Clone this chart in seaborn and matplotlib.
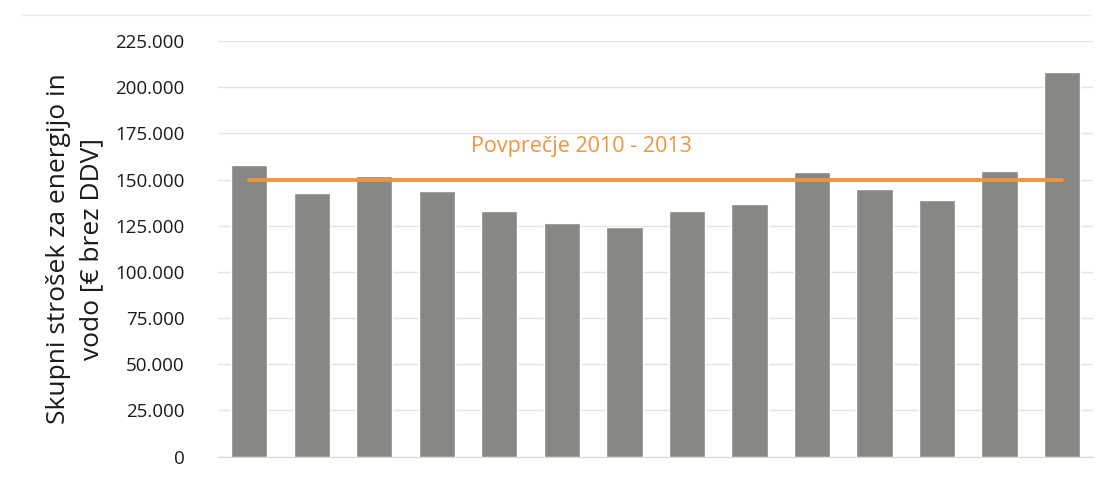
import numpy as np
import pandas as pd
import matplotlib.pyplot as plt
import seaborn as sns
from matplotlib.ticker import FuncFormatter
from matplotlib.lines import Line2D

# Data
periods = [str(i) for i in range(1, 15)]
costs = [157800, 142500, 152000, 143900, 132900, 126600, 124400,
         132700, 136700, 154200, 144800, 138700, 154600, 208200]
avg_value = 149500
avg_label = "Povprečje 2010 - 2013"
y_ticks = [0, 25000, 50000, 75000, 100000, 125000, 150000, 175000, 200000, 225000]

df = pd.DataFrame({"period": periods, "cost": costs})

sns.set_style("white")
plt.rcParams["font.family"] = ["Open Sans", "DejaVu Sans"]

fig = plt.figure(figsize=(11.01, 4.88), dpi=100)
ax = fig.add_axes([0.198, 0.0645, 0.795, 0.8515])

sns.barplot(data=df, x="period", y="cost", color="#878884", saturation=1,
            width=0.58, ax=ax, zorder=2)

# average line from first to last bar
avg_df = pd.DataFrame({"pos": np.arange(len(periods)), "avg": [avg_value] * len(periods)})
sns.lineplot(data=avg_df, x="pos", y="avg", color="#ef9540", linewidth=2.8, ax=ax, zorder=3)
ax.text(5.31, 167600, avg_label, color="#ef9540", fontsize=15.5,
        ha="center", va="center")

ax.set_xlim(-0.5, len(periods) - 0.5)
ax.set_ylim(0, 225000)
ax.set_yticks(y_ticks)
ax.yaxis.set_major_formatter(FuncFormatter(lambda v, p: f"{int(v):,}".replace(",", ".")))
ax.tick_params(axis="y", labelsize=13.5, length=0, pad=24, labelcolor="#1a1a1a")
ax.set_xticks([])
ax.set_xlabel("")
ax.set_ylabel("Skupni strošek za energijo in\nvodo [€ brez DDV]", fontsize=19,
              color="#1a1a1a", labelpad=8, linespacing=1.45)

ax.grid(axis="y", color="#e4e4e4", linewidth=1, zorder=0)
ax.set_axisbelow(True)
for s in ["top", "right", "left"]:
    ax.spines[s].set_visible(False)
ax.spines["bottom"].set_color("#d9d9d9")

# faint frame line at the top of the chart
fig.add_artist(Line2D([0.02, 0.99], [0.969, 0.969], color="#ececec", linewidth=1))

fig.savefig("out.png", dpi=100, facecolor="white")
